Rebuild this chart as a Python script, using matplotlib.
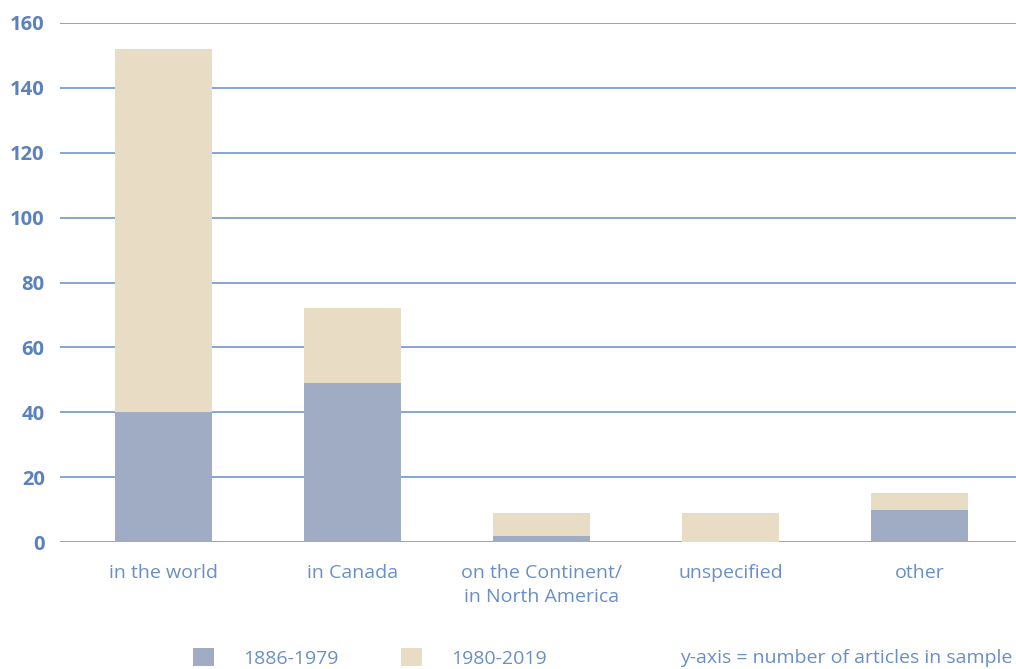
import numpy as np
import matplotlib.pyplot as plt

# categories and values
categories = ['in the world', 'in Canada', 'on the Continent/\nin North America',
              'unspecified', 'other']
early = [40, 49, 2, 0, 10]        # 1886-1979
late = [112, 23, 7, 9, 5]         # 1980-2019
y_ticks = [0, 20, 40, 60, 80, 100, 120, 140, 160]

dark = '#a0acc4'
light = '#e8dcc5'
grid_col = '#7b9fcf'
tick_col = '#5b82bd'
label_col = '#6a8fc6'

plt.rcParams['font.family'] = ['Open Sans', 'DejaVu Sans']

fig = plt.figure(figsize=(10.16, 6.69), dpi=100)
ax = fig.add_axes([60 / 1016, 127 / 669, 956 / 1016, 519 / 669])

x = np.arange(len(categories))
b1 = ax.bar(x, early, width=0.513, color=dark, zorder=3)
b2 = ax.bar(x, late, width=0.513, bottom=early, color=light, zorder=3)

ax.set_xlim(-0.548, 4.51)
ax.set_ylim(0, 160)
ax.set_yticks(y_ticks)
ax.set_xticks(x)
ax.set_xticklabels(categories, color=label_col, fontsize=14, linespacing=1.4)
ax.tick_params(axis='x', length=0, pad=16)
ax.tick_params(axis='y', length=0, pad=11, labelcolor=tick_col, labelsize=14.5)
for lab in ax.get_yticklabels():
    lab.set_fontweight('bold')

ax.grid(axis='y', color=grid_col, linewidth=1.3, zorder=0)
for s in ax.spines.values():
    s.set_visible(False)

fig.legend([b1, b2], ['1886-1979', '1980-2019'], loc='center left',
           bbox_to_anchor=(193 / 1016, 1 - 658 / 669), ncol=2, frameon=False,
           fontsize=14, labelcolor=label_col, handlelength=1.08,
           handleheight=1.03, handletextpad=1.5, columnspacing=3.2,
           borderpad=0, borderaxespad=0)
fig.text(1012 / 1016, 1 - 658 / 669, 'y-axis = number of articles in sample',
         ha='right', va='center', color=label_col, fontsize=14)

fig.savefig('out.png', dpi=100)
